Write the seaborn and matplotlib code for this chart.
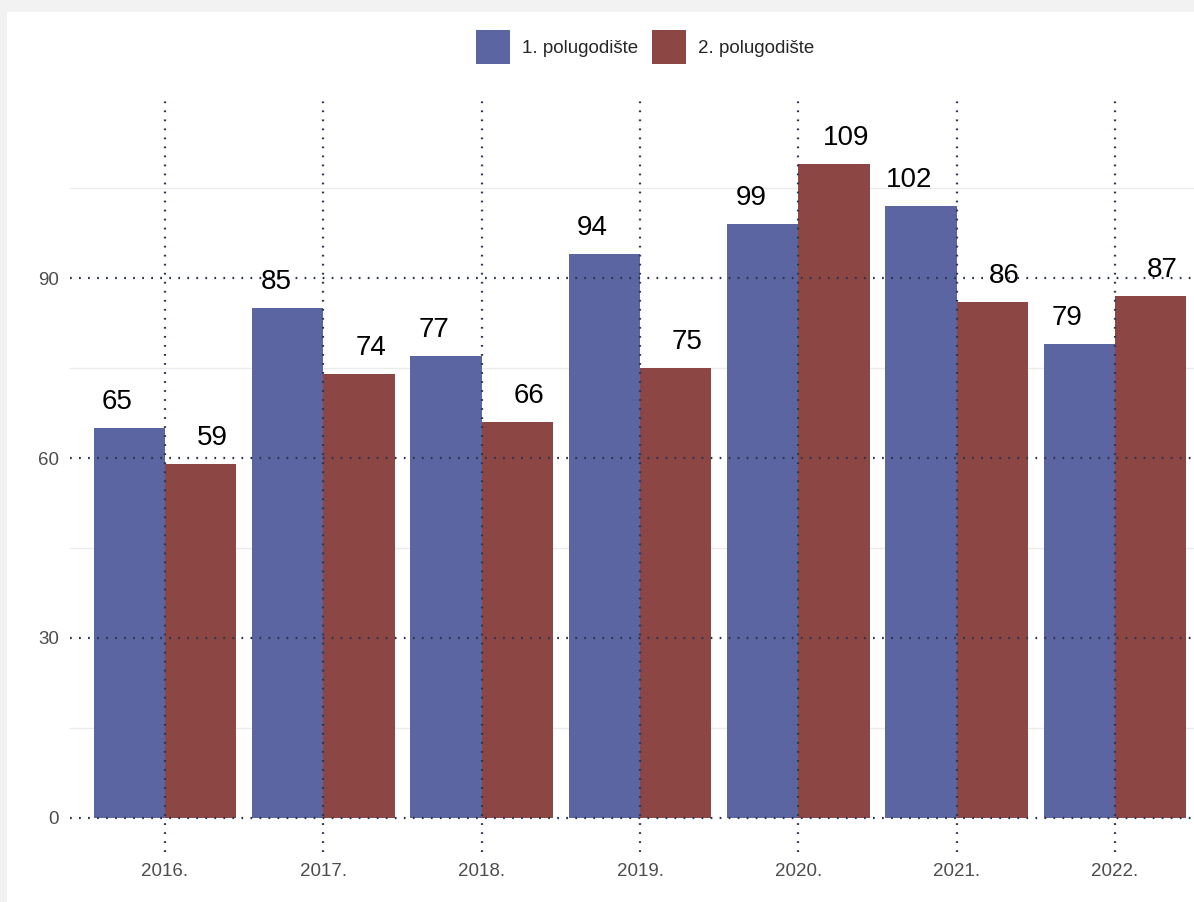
import matplotlib
matplotlib.use("Agg")
import matplotlib.pyplot as plt
from matplotlib.patches import Patch, Rectangle
import numpy as np
import pandas as pd
import seaborn as sns

# Data
years = ["2016.", "2017.", "2018.", "2019.", "2020.", "2021.", "2022."]
first_half = [65, 85, 77, 94, 99, 102, 79]
second_half = [59, 74, 66, 75, 109, 86, 87]
series_names = ["1. polugodište", "2. polugodište"]
colors = ["#5A65A1", "#8C4644"]
y_major = [0, 30, 60, 90]
y_minor = [15, 45, 75, 105]

df = pd.DataFrame({
    "godina": years * 2,
    "vrijednost": first_half + second_half,
    "polugodiste": [series_names[0]] * len(years) + [series_names[1]] * len(years),
})

sns.set_theme(style="white")
plt.rcParams["font.family"] = ["Liberation Sans", "DejaVu Sans"]

W, H = 1194, 902
fig = plt.figure(figsize=(W / 100, H / 100), dpi=100, facecolor="#f2f2f2")
# white canvas leaving a thin grey frame on top and left
fig.patches.append(Rectangle((7 / W, 0), 1 - 7 / W, 1 - 12 / H,
                             transform=fig.transFigure, facecolor="white",
                             edgecolor="none", zorder=-10))

ax = fig.add_axes([70 / W, 50 / H, 1140 / W, 752 / H])
ax.set_facecolor("white")
ax.patch.set_alpha(0)

# light minor grid behind the bars
for v in y_minor:
    ax.axhline(v, color="#ebebeb", lw=1.0, zorder=0)

sns.barplot(data=df, x="godina", y="vrijednost", hue="polugodiste",
            hue_order=series_names, palette=colors, width=0.9,
            saturation=1, dodge=True, ax=ax, legend=False, zorder=2,
            linewidth=0)

ax.set_xlim(-0.6, 6.6)
ax.set_ylim(-5.7, 119.7)

# dotted major grid drawn over the bars
dot = dict(color="#2c3550", lw=1.6, linestyle=(0, (0.8, 3.26)), zorder=3)
for v in y_major:
    ax.axhline(v, **dot)
for i in range(len(years)):
    ax.axvline(i, **dot)

# value labels
for i, (a, b) in enumerate(zip(first_half, second_half)):
    for off, val in ((-0.3, a), (0.3, b)):
        ax.annotate(str(val), xy=(i + off, val), xytext=(0, 13.7),
                    textcoords="offset points", ha="center", va="baseline",
                    fontsize=20, color="black", zorder=4)

ax.set_yticks(y_major)
ax.set_yticklabels([str(v) for v in y_major])
ax.set_xticks(range(len(years)))
ax.set_xticklabels(years)
ax.tick_params(axis="both", length=0, labelsize=13.5, labelcolor="#4d4d4d", pad=8)
ax.set_xlabel("")
ax.set_ylabel("")
for s in ax.spines.values():
    s.set_visible(False)

handles = [Patch(facecolor=c, edgecolor="none", label=n) for c, n in zip(colors, series_names)]
fig.legend(handles=handles, loc="center", bbox_to_anchor=(645 / W, 1 - 47 / H),
           ncol=2, frameon=False, fontsize=13.5, handlelength=1.8, handleheight=2.4,
           handletextpad=0.64, columnspacing=0.75)

fig.savefig("out.png", dpi=100, facecolor=fig.get_facecolor())
